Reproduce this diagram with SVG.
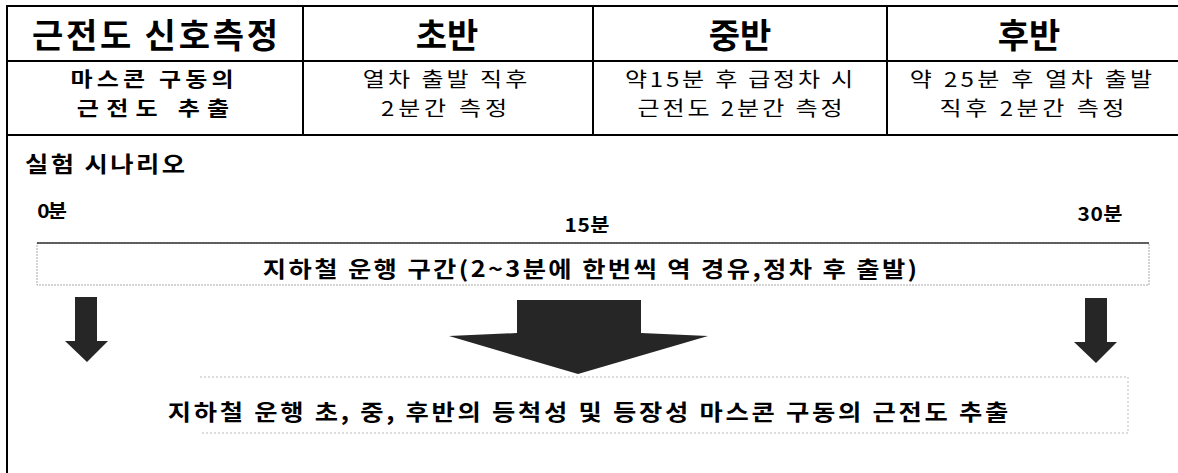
<svg xmlns="http://www.w3.org/2000/svg" width="1178" height="473" viewBox="0 0 1178 473">
<style>
text{font-family:"Noto Sans CJK KR","Noto Sans",sans-serif;fill:#000;text-anchor:middle}
.h{font-size:34px;font-weight:bold}
.b{font-size:20px;font-weight:bold}
.r{font-size:20px;font-weight:normal}
.m{font-size:22px;font-weight:bold}
.t{font-size:19px;font-weight:bold}
.grid{stroke:#000;stroke-width:2;fill:none}
.arrow{fill:#262626}
.faint{fill:none;stroke:#aaa;stroke-width:1;stroke-dasharray:2 1}
</style>
<rect width="1178" height="473" fill="#fff"/>
<g id="table">
<path class="grid" d="M7,6 H1178 M7,61 H1178 M7,135 H1178 M7,5 V473 M303,6 V135 M593,6 V135 M887,6 V135"/>
</g>
<g id="header">
<text class="h" x="155" y="48" textLength="246" lengthAdjust="spacing">근전도 신호측정</text>
<text class="h" x="447" y="48">초반</text>
<text class="h" x="740" y="48">중반</text>
<text class="h" x="1029" y="48">후반</text>
</g>
<g id="row2">
<text class="b" transform="translate(152,87) scale(1.2,1)" textLength="136" lengthAdjust="spacing">마스콘 구동의</text>
<text class="b" transform="translate(153,116) scale(1.2,1)" textLength="127" lengthAdjust="spacing">근전도 추출</text>
<text class="r" transform="translate(445,87) scale(1.2,1)" textLength="137" lengthAdjust="spacing">열차 출발 직후</text>
<text class="r" transform="translate(444,116) scale(1.2,1)" textLength="105" lengthAdjust="spacing">2분간 측정</text>
<text class="r" transform="translate(739,87) scale(1.2,1)" textLength="190" lengthAdjust="spacing">약15분 후 급정차 시</text>
<text class="r" transform="translate(740,116) scale(1.2,1)" textLength="171" lengthAdjust="spacing">근전도 2분간 측정</text>
<text class="r" transform="translate(1031,87) scale(1.2,1)" textLength="202" lengthAdjust="spacing">약 25분 후 열차 출발</text>
<text class="r" transform="translate(1032,116) scale(1.2,1)" textLength="154" lengthAdjust="spacing">직후 2분간 측정</text>
</g>
<g id="scenario">
<text class="m" transform="translate(105,172) scale(1.15,1)" textLength="139" lengthAdjust="spacing">실험 시나리오</text>
<text class="t" transform="translate(52,218) scale(1.1,1)" textLength="27" lengthAdjust="spacing">0분</text>
<text class="t" transform="translate(587,232) scale(1.1,1)" textLength="41" lengthAdjust="spacing">15분</text>
<text class="t" transform="translate(1100,221) scale(1.1,1)" textLength="41" lengthAdjust="spacing">30분</text>
</g>
<g id="span-box">
<rect class="faint" x="37" y="243" width="1112" height="42"/>
<line x1="37" y1="243" x2="1149" y2="243" stroke="#333" stroke-width="1.5"/>
<text class="m" transform="translate(590,277) scale(1.15,1)" textLength="569" lengthAdjust="spacing">지하철 운행 구간(2~3분에 한번씩 역 경유,정차 후 출발)</text>
</g>
<g id="connectors">
<polygon class="arrow" points="75,297 97,297 97,341 108,341 87,362 65,341 75,341"/>
<polygon class="arrow" points="517,300 641,300 641,333 708,336 578,374 449,336 517,333"/>
<polygon class="arrow" points="1085,298 1107,298 1107,342 1117,342 1096,363 1074,342 1085,342" fill="#3a3a3a"/>
</g>
<g id="result-box">
<path d="M200,377 H1128 V433 H200" fill="none" stroke="#bbb" stroke-width="1" stroke-dasharray="2 2"/>
<text class="m" transform="translate(588,420) scale(1.15,1)" textLength="731" lengthAdjust="spacing">지하철 운행 초, 중, 후반의 등척성 및 등장성 마스콘 구동의 근전도 추출</text>
</g>
</svg>
